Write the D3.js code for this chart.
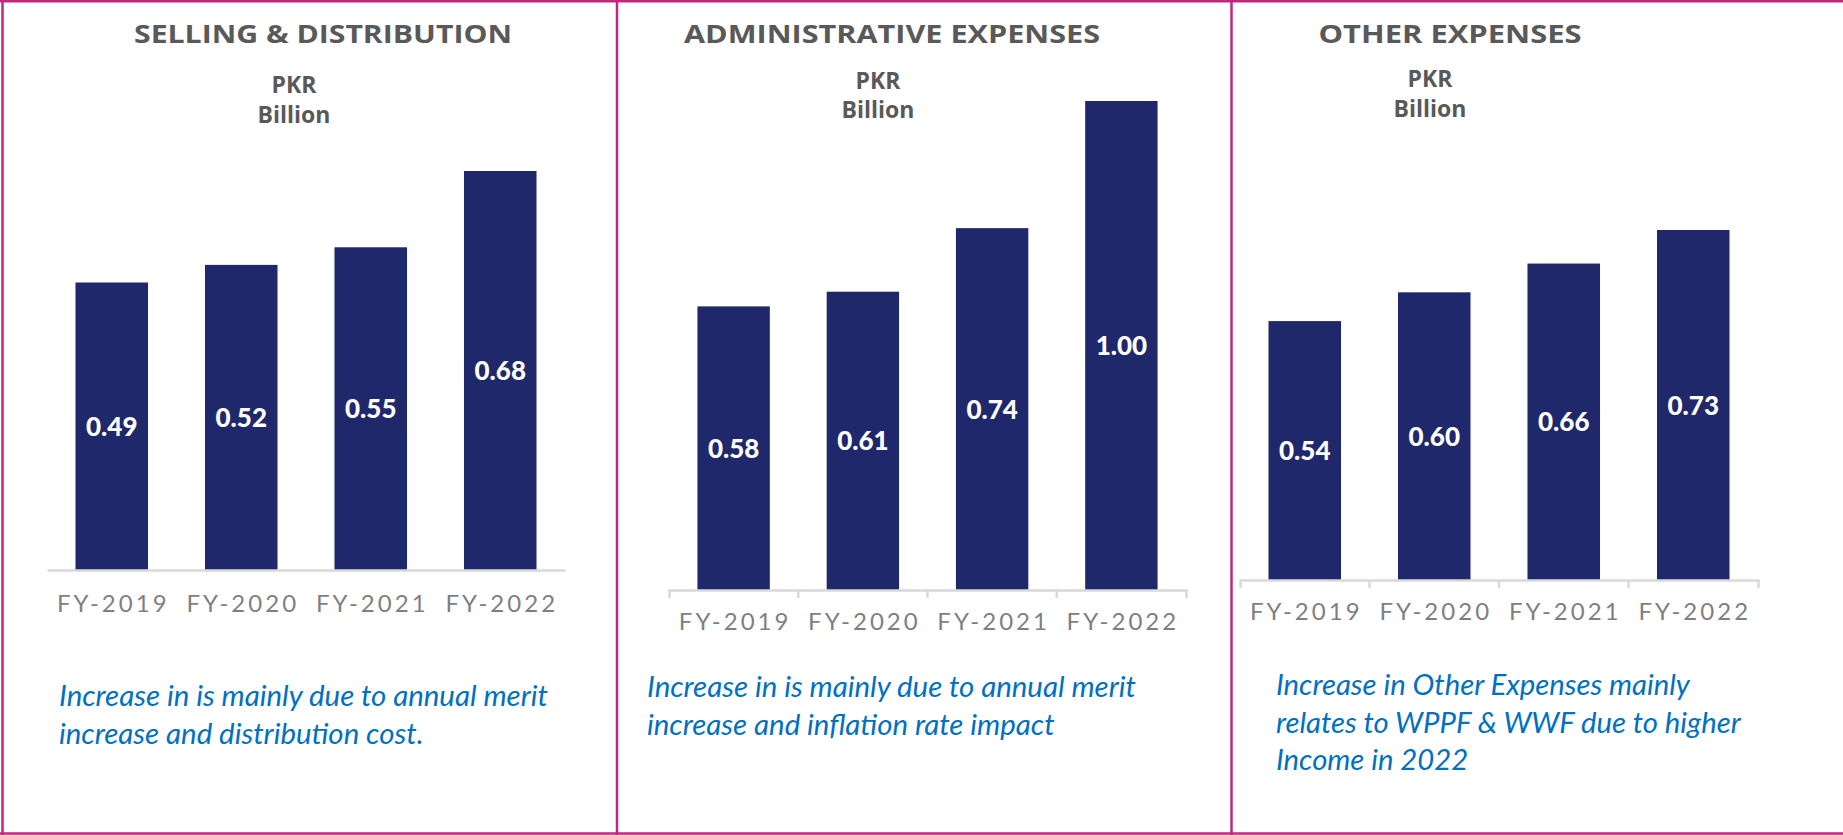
<!DOCTYPE html>
<html>
<head>
<meta charset="utf-8">
<script src="https://cdn.jsdelivr.net/npm/d3@7"></script>
<style>
  html, body { margin: 0; padding: 0; background: #fff; }
  svg { display: block; }
</style>
</head>
<body>
<div id="chart"></div>
<script>
// data
const years = ["FY-2019", "FY-2020", "FY-2021", "FY-2022"]
const sellingDistribution = [0.49, 0.52, 0.55, 0.68]
const adminExpenses = [0.58, 0.61, 0.74, 1.00]
const otherExpenses = [0.54, 0.60, 0.66, 0.73]
const titles = ["SELLING & DISTRIBUTION", "ADMINISTRATIVE EXPENSES", "OTHER EXPENSES"]
const unitLines = ["PKR", "Billion"]
const notes = [
    ["Increase in is mainly due to annual merit", "increase and distribution cost."],
    ["Increase in is mainly due to annual merit", "increase and inflation rate impact"],
    ["Increase in Other Expenses mainly", "relates to WPPF & WWF due to higher", "Income in 2022"]
]

const width = 1843
const height = 835
const border = "#c0287f"
const barColor = "#1f286b"

// layout for each panel
const panels = [
    { values: sellingDistribution, x0: 47, x1: 565, base: 570, top: 171, ticks: false,
      titleX: 323, titleW: 378, unitX: 294, unitY: [93, 123], tickY: 612,
      noteX: 59, noteY: 706, noteW: 489 },
    { values: adminExpenses, x0: 669, x1: 1186, base: 590, top: 101, ticks: true,
      titleX: 892, titleW: 416, unitX: 878, unitY: [89, 118], tickY: 630,
      noteX: 647, noteY: 697, noteW: 489 },
    { values: otherExpenses, x0: 1240, x1: 1758, base: 580, top: 230, ticks: true,
      titleX: 1450, titleW: 263, unitX: 1430, unitY: [87, 117], tickY: 620,
      noteX: 1276, noteY: 695, noteW: 414 }
]

const svg = d3.select("#chart")
    .append("svg")
    .attr("width", width)
    .attr("height", height)

// panel frames
const frame = svg.append("g")
    .attr("stroke", border)
    .attr("stroke-width", 2.5)
frame.append("line").attr("x1", 0).attr("x2", width).attr("y1", 1.2).attr("y2", 1.2)
frame.append("line").attr("x1", 0).attr("x2", width).attr("y1", 833.5).attr("y2", 833.5)
frame.append("line").attr("x1", 2.5).attr("x2", 2.5).attr("y1", 0).attr("y2", 835)
frame.append("line").attr("x1", 617).attr("x2", 617).attr("y1", 0).attr("y2", 835)
frame.append("line").attr("x1", 1231.5).attr("x2", 1231.5).attr("y1", 0).attr("y2", 835)

panels.forEach((p, i) => {
    const g = svg.append("g")

    const x = d3.scaleBand()
        .domain(years)
        .range([p.x0, p.x1])
        .paddingInner(0.44)
        .paddingOuter(0.22)

    const y = d3.scaleLinear()
        .domain([0, d3.max(p.values)])
        .range([p.base, p.top])

    // title
    g.append("text")
        .attr("x", p.titleX)
        .attr("y", 43)
        .attr("text-anchor", "middle")
        .attr("textLength", p.titleW)
        .attr("lengthAdjust", "spacingAndGlyphs")
        .style("font-family", "'Open Sans', sans-serif")
        .style("font-weight", "bold")
        .style("font-size", "25px")
        .style("fill", "#595959")
        .text(titles[i])

    // unit
    g.selectAll(".unit")
        .data(unitLines)
        .enter()
        .append("text")
        .attr("x", p.unitX)
        .attr("y", (d, j) => p.unitY[j])
        .attr("text-anchor", "middle")
        .style("font-family", "'Open Sans', sans-serif")
        .style("font-weight", "bold")
        .style("font-size", "23px")
        .style("fill", "#595959")
        .text(d => d)

    // bars
    const data = years.map((d, j) => ({ year: d, value: p.values[j] }))
    g.selectAll("rect")
        .data(data)
        .enter()
        .append("rect")
        .attr("x", d => x(d.year))
        .attr("y", d => y(d.value))
        .attr("width", x.bandwidth())
        .attr("height", d => y(0) - y(d.value))
        .style("fill", barColor)

    // value labels, centred in the bar
    g.selectAll(".val")
        .data(data)
        .enter()
        .append("text")
        .attr("x", d => x(d.year) + x.bandwidth() / 2)
        .attr("y", d => (y(d.value) + y(0)) / 2 + 9.5)
        .attr("text-anchor", "middle")
        .style("font-family", "Lato, sans-serif")
        .style("font-weight", "900")
        .style("font-size", "26px")
        .style("fill", "#fff")
        .text(d => d.value.toFixed(2))

    // axis
    const axis = g.append("g")
        .attr("transform", "translate(0," + p.base + ")")
        .call(d3.axisBottom(x).tickSizeInner(0).tickSizeOuter(p.ticks ? 8 : 0))
    axis.select(".domain")
        .attr("stroke", "#d9d9d9")
        .attr("stroke-width", 2.5)
    axis.selectAll(".tick text")
        .attr("y", p.tickY - p.base)
        .attr("dy", null)
        .attr("dx", "1.5")
        .style("font-family", "Lato, sans-serif")
        .style("font-size", "24px")
        .style("letter-spacing", "3px")
        .style("fill", "#7f7f7f")

    if (p.ticks) {
        g.selectAll(".sep")
            .data(years.slice(1))
            .enter()
            .append("line")
            .attr("x1", d => x(d) - x.step() * x.paddingInner() / 2)
            .attr("x2", d => x(d) - x.step() * x.paddingInner() / 2)
            .attr("y1", p.base)
            .attr("y2", p.base + 8)
            .attr("stroke", "#d9d9d9")
            .attr("stroke-width", 2.5)
    }

    // note, font size fitted to the width of its first line
    const note = g.selectAll(".note")
        .data(notes[i])
        .enter()
        .append("text")
        .attr("x", p.noteX)
        .attr("y", (d, j) => p.noteY + j * 37.5)
        .style("font-family", "Lato, sans-serif")
        .style("font-style", "italic")
        .style("font-size", "26px")
        .style("fill", "#0070c0")
        .text(d => d)
    const w = note.node().getComputedTextLength()
    note.style("font-size", (26 * p.noteW / w).toFixed(2) + "px")
})
</script>
</body>
</html>
